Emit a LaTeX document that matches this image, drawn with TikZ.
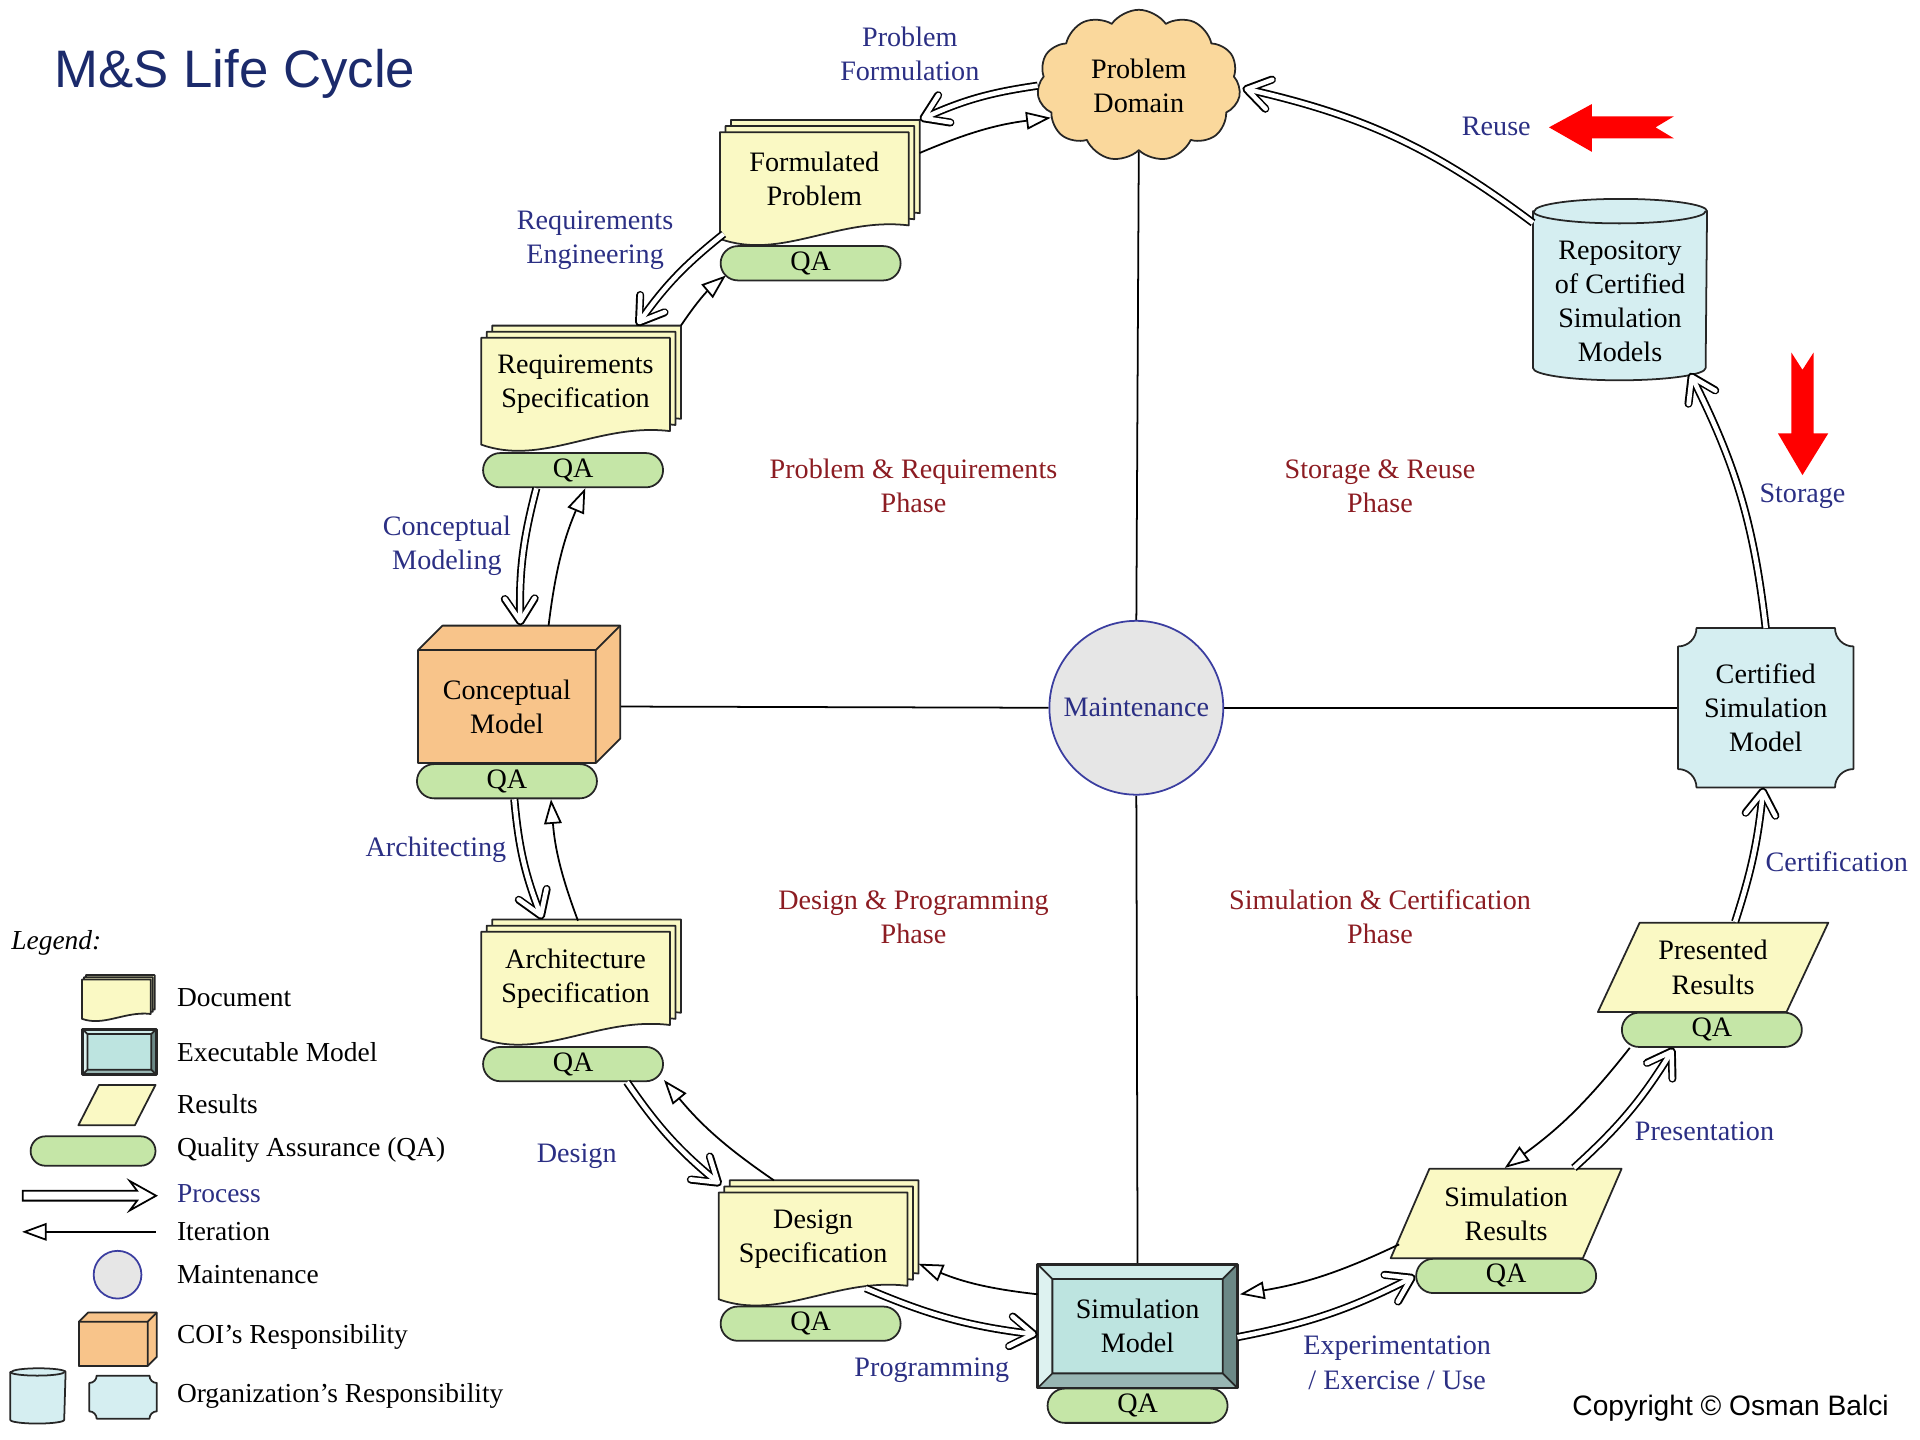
\documentclass[tikz,border=0pt]{standalone}
\usepackage{fontspec}
\setmainfont{Liberation Serif}
\newfontfamily\sansfont{Liberation Sans}
\usetikzlibrary{arrows.meta,shapes.geometric,shapes.symbols,shapes.misc,backgrounds}

\definecolor{docyellow}{HTML}{FAF9C4}
\definecolor{qagreen}{HTML}{C5E6A7}
\definecolor{coiorange}{HTML}{F8C48A}
\definecolor{cloudorange}{HTML}{FAD89C}
\definecolor{orgcyan}{HTML}{D5EEF1}
\definecolor{execmid}{HTML}{BDE4E0}
\definecolor{exectop}{HTML}{CFEBE9}
\definecolor{execleft}{HTML}{DDF2F0}
\definecolor{execright}{HTML}{6B8886}
\definecolor{execbottom}{HTML}{98B6B3}
\definecolor{labelblue}{HTML}{2B2F84}
\definecolor{titleblue}{HTML}{1B2A6B}
\definecolor{phasered}{HTML}{8C1C22}
\definecolor{maintgray}{HTML}{E6E6E6}
\definecolor{maintblue}{HTML}{3B3EA0}

\newdimen\upx
\upx=0.012245cm

% one page of a document: node, x shift, y shift, size factor
\newcommand{\docpage}[4]{%
  \filldraw[shapeline,fill=docyellow]
    ([shift={(#2,#3)}]#1.north west) -- ([shift={(#2,#3)}]#1.north east)
    -- ([shift={(#2,#3)}]#1.south east)
    .. controls +(-58*#4,-7*#4) and +(50*#4,18*#4) ..
    ([shift={(#2,#3+11*#4)}]#1.south west) -- cycle;}
\newcommand{\docstack}[2]{%
  \docpage{#1}{9*#2}{-10*#2}{#2}
  \docpage{#1}{4.5*#2}{-5*#2}{#2}
  \docpage{#1}{0}{0}{#2}}
% executable model: node, bevel
\newcommand{\execshape}[2]{%
  \fill[execmid] (#1.north west) rectangle (#1.south east);
  \fill[exectop] (#1.north west) -- (#1.north east) -- ([shift={(-#2,#2)}]#1.north east) -- ([shift={(#2,#2)}]#1.north west) -- cycle;
  \fill[execleft] (#1.north west) -- ([shift={(#2,#2)}]#1.north west) -- ([shift={(#2,-#2)}]#1.south west) -- (#1.south west) -- cycle;
  \fill[execright] (#1.north east) -- (#1.south east) -- ([shift={(-#2,-#2)}]#1.south east) -- ([shift={(-#2,#2)}]#1.north east) -- cycle;
  \fill[execbottom] (#1.south west) -- (#1.south east) -- ([shift={(-#2,-#2)}]#1.south east) -- ([shift={(#2,-#2)}]#1.south west) -- cycle;
  \draw[shapeline] ([shift={(#2,#2)}]#1.north west) rectangle ([shift={(-#2,-#2)}]#1.south east)
    (#1.north west) -- ([shift={(#2,#2)}]#1.north west)
    (#1.north east) -- ([shift={(-#2,#2)}]#1.north east)
    (#1.south west) -- ([shift={(#2,-#2)}]#1.south west)
    (#1.south east) -- ([shift={(-#2,-#2)}]#1.south east);
  \draw[shapeline,line width=0.8pt] (#1.north west) rectangle (#1.south east);}
% box seen from the front: node, depth
\newcommand{\cubeshape}[2]{%
  \filldraw[shapeline,fill=coiorange] (#1.north west) -- ([shift={(#2,-#2)}]#1.north west)
    -- ([shift={(#2,-#2)}]#1.north east) -- ([shift={(#2,-#2)}]#1.south east)
    -- (#1.south east) -- (#1.south west) -- cycle;
  \draw[shapeline] (#1.north west) -- (#1.north east) -- (#1.south east)
    (#1.north east) -- ([shift={(#2,-#2)}]#1.north east);}
% rectangle with hollow corners: node, radius
\newcommand{\stampshape}[2]{%
  \filldraw[shapeline,fill=orgcyan] ([shift={(#2,0)}]#1.north west) -- ([shift={(-#2,0)}]#1.north east)
    arc[start angle=180,end angle=90,radius=#2] -- ([shift={(0,-#2)}]#1.south east)
    arc[start angle=270,end angle=180,radius=#2] -- ([shift={(#2,0)}]#1.south west)
    arc[start angle=0,end angle=-90,radius=#2] -- ([shift={(0,#2)}]#1.north west)
    arc[start angle=90,end angle=0,radius=#2] -- cycle;}
% drum for a store: node, x radius, y radius, top offset
\newcommand{\drumshape}[4]{%
  \filldraw[shapeline,fill=orgcyan] ([shift={(0,-#4)}]#1.north west) -- ([shift={(0,-#3)}]#1.south west)
    arc[start angle=180,end angle=0,x radius=#2,y radius=#3] -- ([shift={(0,-#4)}]#1.north east)
    arc[start angle=0,end angle=-180,x radius=#2,y radius=#3] -- cycle;
  \draw[shapeline] ([shift={(0,-#4)}]#1.north west) arc[start angle=180,end angle=0,x radius=#2,y radius=#3];}

\begin{document}
\begin{tikzpicture}[x=0.012245cm, y=-0.012245cm,
  shapeline/.style={draw=black!85, line width=0.5pt, line join=round},
  base/.style={font=\fontsize{8}{9.7}\selectfont, align=center, inner sep=0pt},
  docbox/.style={base, minimum width=153\upx, minimum height=75\upx},
  qa/.style={base, shapeline, rounded rectangle, fill=qagreen, minimum width=147\upx, minimum height=28\upx},
  results/.style={base, shapeline, trapezium, trapezium left angle=60, trapezium right angle=120,
    trapezium stretches=true, fill=docyellow, minimum width=189\upx, minimum height=73\upx},
  lbl/.style={base, text=labelblue},
  phase/.style={base, text=phasered},
  legtext/.style={base, anchor=west, font=\fontsize{7.8}{9.4}\selectfont},
  process/.style={line width=1.3pt, white, shorten >=0.6pt, -{Straight Barb[round, length=6.5pt, width=8.5pt]},
    preaction={draw=black, line width=2.3pt, shorten >=0pt, -{Straight Barb[round, length=6.5pt, width=8.5pt]}}},
  iteration/.style={line width=0.5pt, -{Triangle[length=7pt, width=5pt, fill=white]}}]
\useasboundingbox (0,0) rectangle (1568,1176);

% Title
\node[anchor=west, inner sep=0pt, text=titleblue, font=\sansfont\fontsize{15}{17}\selectfont] (title) at (44,60) {M\&S Life Cycle};

% Cycle nodes
\node[base, shapeline, cloud, cloud puffs=11, cloud puff arc=110, aspect=1.3, fill=cloudorange,
  minimum width=166\upx, minimum height=124\upx] (pd) at (930,70) {Problem\\Domain};
\node[docbox] (fp) at (665,146) {Formulated\\Problem};
\node[qa] (qa1) at (662,215) {QA};
\node[docbox] (rs) at (470,314) {Requirements\\Specification};
\node[qa] (qa2) at (468,384) {QA};
\node[base, minimum width=144\upx, minimum height=91\upx] (cm) at (414,577) {Conceptual\\Model};
\node[qa] (qa3) at (414,638) {QA};
\node[docbox] (as) at (470,799) {Architecture\\Specification};
\node[qa] (qa4) at (468,869) {QA};
\node[docbox] (ds) at (664,1012) {Design\\Specification};
\node[qa] (qa5) at (662,1081) {QA};
\node[base, minimum width=162\upx, minimum height=100\upx] (sm) at (929,1083) {Simulation\\Model};
\node[qa] (qa6) at (929,1148) {QA};
\node[results] (sr) at (1230,991) {Simulation\\Results};
\node[qa] (qa7) at (1230,1042) {QA};
\node[results] (pr) at (1399,790) {Presented\\Results};
\node[qa] (qa8) at (1398,841) {QA};
\node[base, minimum width=142\upx, minimum height=129\upx] (csm) at (1442,578) {Certified\\Simulation\\Model};
\node[base, minimum width=141\upx, minimum height=128\upx] (rep) at (1323,246) {Repository\\of Certified\\Simulation\\Models};
\node[base, circle, draw=maintblue, line width=0.5pt, fill=maintgray, text=labelblue, minimum size=142\upx] (mt) at (928,578) {Maintenance};

% Legend nodes
\node[base, font=\fontsize{7.8}{9.4}\selectfont\itshape] (legend) at (46,770) {Legend:};
\node[base, minimum width=55\upx, minimum height=27\upx] (ldoc) at (95,814) {};
\node[base, minimum width=59\upx, minimum height=36\upx] (lexe) at (97.5,859) {};
\node[results, inner sep=2pt, minimum width=63\upx, minimum height=33\upx] (lres) at (95.5,902.5) {};
\node[qa, minimum width=102\upx, minimum height=24\upx] (lqa) at (76,940) {};
\node[base, circle, draw=maintblue, line width=0.5pt, fill=maintgray, minimum size=39\upx] (lmt) at (96,1041) {};
\node[base, minimum width=55\upx, minimum height=35\upx] (lcoi) at (92.5,1097.5) {};
\node[base, minimum width=44\upx, minimum height=40\upx] (lcyl) at (31,1142) {};
\node[base, minimum width=54\upx, minimum height=34\upx] (lorg) at (100.5,1141) {};

% Shapes behind the texts
\begin{scope}[on background layer]
\draw[line width=0.5pt] (pd.south) -- (mt.north);
\draw[line width=0.5pt] (mt.south) -- (sm.north);
\draw[line width=0.5pt] ([shift={(20,0)}]cm.east) -- (mt.west);
\draw[line width=0.5pt] (mt.east) -- (csm.west);
\docstack{fp}{1}
\docstack{rs}{1}
\docstack{as}{1}
\docstack{ds}{1}
\docstack{ldoc}{0.36}
\cubeshape{cm}{20}
\cubeshape{lcoi}{7.5}
\execshape{sm}{12}
\execshape{lexe}{4}
\stampshape{csm}{15}
\stampshape{lorg}{6}
\drumshape{rep}{70.5}{10}{9}
\drumshape{lcyl}{22}{3}{1}
\end{scope}

% Process arrows
\draw[process] (pd.west) to[bend right=8] ([shift={(9,-10)}]fp.north east);
\draw[process] ([shift={(3,7)}]fp.south west) to[bend right=8] ([shift={(50,-10)}]rs.north);
\draw[process] ([shift={(-30,0)}]qa2.south) to[bend right=8] ([shift={(11,-20)}]cm.north);
\draw[process] ([shift={(6,0)}]qa3.south) to[bend right=8] ([shift={(-27,-10)}]as.north);
\draw[process] ([shift={(44,0)}]qa4.south) to[bend right=8] ([shift={(2,-6)}]ds.north west);
\draw[process] ([shift={(43,2)}]ds.south) to[bend right=8] ([shift={(0,7)}]sm.west);
\draw[process] ([shift={(0,9)}]sm.east) to[bend right=8] (qa7.west);
\draw[process] ([shift={(-40,0)}]sr.top right corner) to[bend right=8] ([shift={(-31,0)}]qa8.south);
\draw[process] ([shift={(18,0)}]pr.north) to[bend right=6] ([shift={(-2,0)}]csm.south);
\draw[process] (csm.north) to[bend right=10] ([shift={(57,-6)}]rep.south);
\draw[process] ([shift={(0,-64)}]rep.west) to[bend right=12] ([shift={(2,2)}]pd.east);

% Iteration arrows
\draw[iteration] ([shift={(9,17)}]fp.north east) to[bend left=8] (pd.200);
\draw[iteration] ([shift={(9,-10)}]rs.north east) to[bend left=8] ([shift={(5,10)}]qa1.west);
\draw[iteration] ([shift={(34,-20)}]cm.north) to[bend left=8] ([shift={(10,0)}]qa2.south);
\draw[iteration] ([shift={(2,-9)}]as.north) to[bend left=8] ([shift={(36,0)}]qa3.south);
\draw[iteration] ([shift={(-32,-10)}]ds.north) to[bend left=8] ([shift={(0,13)}]qa4.east);
\draw[iteration] ([shift={(0,-26)}]sm.west) to[bend left=8] ([shift={(9,20)}]ds.east);
\draw[iteration] ([shift={(8,-12)}]sr.bottom left corner) to[bend left=8] ([shift={(2,-26)}]sm.east);
\draw[iteration] ([shift={(-67,0)}]qa8.south) to[bend left=8] ([shift={(62,0)}]sr.top left corner);

% Process labels
\node[lbl] (l-pf) at (743,44) {Problem\\Formulation};
\node[lbl] (l-re) at (486,196) {Requirements\\Engineering};
\node[lbl] (l-cmod) at (365,446) {Conceptual\\Modeling};
\node[lbl] (l-arch) at (356,694) {Architecting};
\node[lbl] (l-des) at (471,944) {Design};
\node[lbl] (l-prog) at (761,1119) {Programming};
\node[lbl] (l-exp) at (1141,1113) {Experimentation\\/ Exercise / Use};
\node[lbl] (l-pres) at (1392,924) {Presentation};
\node[lbl] (l-cert) at (1500,704) {Certification};
\node[lbl] (l-stor) at (1472,405) {Storage};
\node[lbl] (l-reuse) at (1222,103) {Reuse};

% Phase labels
\node[phase] (ph1) at (746,397) {Problem \& Requirements\\Phase};
\node[phase] (ph2) at (1127,397) {Storage \& Reuse\\Phase};
\node[phase] (ph3) at (746,749) {Design \& Programming\\Phase};
\node[phase] (ph4) at (1127,749) {Simulation \& Certification\\Phase};

% Red arrows
\fill[red] (1265,104) -- (1300,85) -- (1300,95) -- (1367,95) -- (1352,104) -- (1367,113) -- (1300,113) -- (1300,124) -- cycle;
\fill[red] (1472,388) -- (1452,354) -- (1463,354) -- (1463,288) -- (1472,302) -- (1481,288) -- (1481,354) -- (1493,354) -- cycle;

% Legend symbols and texts
\filldraw[fill=white, line width=0.5pt, line join=miter] (18.5,972.5) -- (112,972.5) -- (106,964.5) -- (127.5,976.5)
  -- (106,988.5) -- (112,980.5) -- (18.5,980.5) -- cycle;
\draw[iteration] (127,1006) -- (18,1006);
\node[legtext] (t-doc) at (144,815) {Document};
\node[legtext] (t-exe) at (144,859) {Executable Model};
\node[legtext] (t-res) at (144,902) {Results};
\node[legtext] (t-qa) at (144,939) {Quality Assurance (QA)};
\node[legtext, text=labelblue] (t-proc) at (144,975) {Process};
\node[legtext] (t-iter) at (144,1006) {Iteration};
\node[legtext] (t-mt) at (144,1041) {Maintenance};
\node[legtext] (t-coi) at (144,1092) {COI’s Responsibility};
\node[legtext] (t-org) at (144,1140) {Organization’s Responsibility};

% Copyright
\node[anchor=east, inner sep=0pt, font=\sansfont\fontsize{8}{9}\selectfont] (copy) at (1543,1150) {Copyright \textcopyright{} Osman Balci};
\end{tikzpicture}
\end{document}
